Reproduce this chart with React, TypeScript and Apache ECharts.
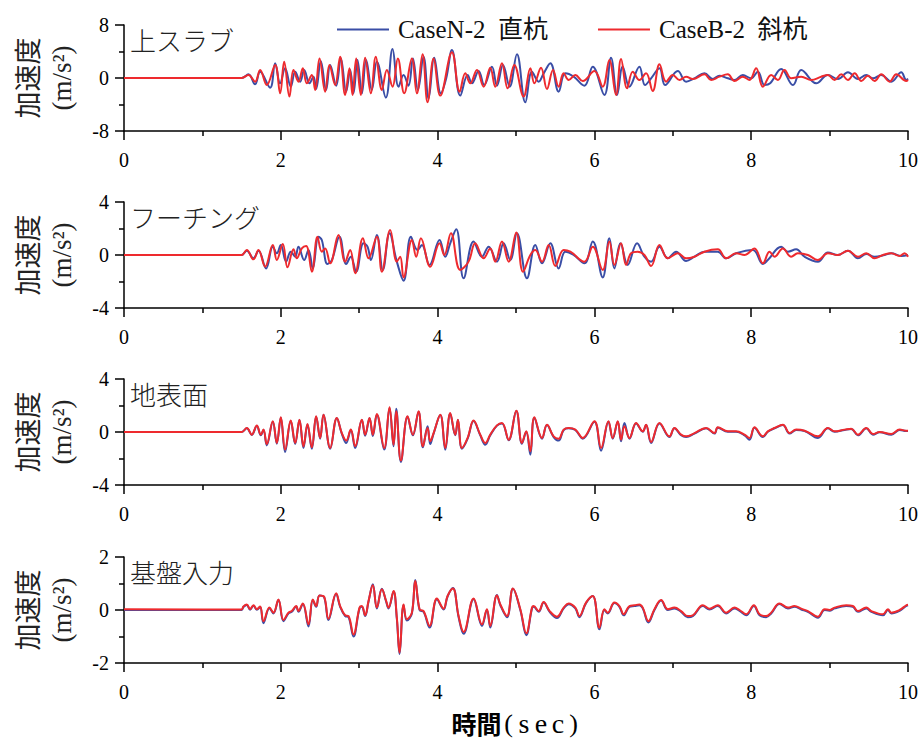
import React, { useEffect, useRef } from "react";
import * as echarts from "echarts";

// ---- labels ----
const SERIES_N = "CaseN-2\u00a0\u00a0直杭";
const SERIES_B = "CaseB-2\u00a0\u00a0斜杭";
const PANEL_TITLES = ["上スラブ", "フーチング", "地表面", "基盤入力"];
const Y_LIMITS = [8, 4, 4, 2];
const X_MIN = 0;
const X_MAX = 10;
const X_STEP = 2;
const Y_NAME_MAIN = "加速度";
const Y_NAME_UNIT = "(m/s²)";
const X_NAME_MAIN = "時間";
const X_NAME_UNIT = ["(", "s", "e", "c", ")"];

// ---- data: [time (s), acceleration (m/s2)] ----
const slabB: number[][] = [
  [0, 0], [1.5, 0], [1.587, 0.45], [1.672, -0.55], [1.736, 1.21], [1.821, -1.06], [1.928, 1.96], [1.991, -2.31],
  [2.043, 2.46], [2.11, -2.81], [2.162, 1.21], [2.226, -0.55], [2.281, 1.46], [2.332, -0.8], [2.396, 0.45],
  [2.438, -1.81], [2.494, 2.96], [2.566, -2.06], [2.621, 1.96], [2.693, -1.06], [2.757, 3.22], [2.821, -2.56],
  [2.876, 1.46], [2.915, -2.56], [2.962, 2.96], [3.021, -2.56], [3.076, 3.07], [3.149, -2.31], [3.212, 3.22],
  [3.289, -1.81], [3.353, 1.21], [3.425, -1.31], [3.493, 2.96], [3.574, -2.31], [3.672, 2.96], [3.736, -2.31],
  [3.808, 3.57], [3.872, -3.67], [3.949, 2.96], [4.034, -2.66], [4.183, 3.87], [4.281, -2.06], [4.353, 0.7],
  [4.417, -0.8], [4.502, 1.21], [4.587, -1.31], [4.672, 1.56], [4.736, -1.31], [4.821, 2.21], [4.893, -1.56],
  [4.978, 1.96], [5.097, -2.81], [5.183, 1.46], [5.234, -0.8], [5.319, 1.56], [5.395, -1.66], [5.472, 1.21],
  [5.544, -1.31], [5.608, 0.7], [5.672, -0.3], [5.757, 0.45], [5.851, -0.45], [6.0, 1.06], [6.106, -1.31],
  [6.191, 2.71], [6.276, -2.56], [6.34, 2.86], [6.417, -1.56], [6.489, 0.95], [6.574, -0.3], [6.659, 0.7],
  [6.744, -1.96], [6.83, 2.06], [6.915, -0.55], [7.0, 0.45], [7.085, -0.3], [7.17, 0.2], [7.255, -0.15],
  [7.404, 0.55], [7.489, -0.3], [7.595, 0.2], [7.702, 0.55], [7.787, -0.45], [7.893, 0.2], [7.978, -0.3],
  [8.063, 1.46], [8.149, -1.31], [8.255, 0.45], [8.34, -0.3], [8.425, 1.21], [8.51, -0.05], [8.638, 0.2],
  [8.766, -0.3], [8.893, 0.2], [8.978, 0.45], [9.063, -0.3], [9.149, 0.55], [9.234, -0.3], [9.319, 0.7],
  [9.404, -0.45], [9.489, 0.35], [9.574, -0.45], [9.659, 0.55], [9.766, -0.55], [9.851, 0.55], [9.978, -0.45],
  [10, -0.3],
];
const slabN: number[][] = [
  [0, 0], [1.5, 0], [1.587, 0.55], [1.672, -0.95], [1.736, 0.95], [1.864, -1.46], [1.928, 2.21], [1.991, -0.8],
  [2.055, 1.46], [2.127, -1.31], [2.183, 0.95], [2.247, -0.55], [2.298, 1.21], [2.366, -0.8], [2.417, 0.2],
  [2.451, -1.66], [2.51, 2.56], [2.578, -1.81], [2.63, 1.96], [2.706, -1.16], [2.766, 2.96], [2.834, -2.06],
  [2.885, 1.21], [2.927, -2.31], [2.978, 2.71], [3.034, -2.31], [3.089, 2.71], [3.161, -1.81], [3.225, 2.46],
  [3.34, -2.96], [3.425, 4.37], [3.502, -1.31], [3.566, 0.45], [3.629, -1.16], [3.685, 2.96], [3.749, -1.81],
  [3.821, 3.22], [3.885, -3.07], [3.957, 3.07], [4.042, -2.31], [4.11, -0.05], [4.183, 4.22], [4.289, -2.66],
  [4.383, 0.45], [4.438, -0.8], [4.523, 1.06], [4.595, -1.06], [4.693, 1.71], [4.757, -1.16], [4.834, 1.96],
  [4.919, -1.31], [5.012, 3.57], [5.119, -3.67], [5.204, 0.95], [5.289, -0.55], [5.353, 0.7], [5.438, 2.21],
  [5.544, -2.06], [5.629, 0.7], [5.735, 0.2], [5.872, -1.16], [5.979, 1.71], [6.127, -2.56], [6.212, 3.07],
  [6.289, -2.56], [6.361, 1.71], [6.446, -1.31], [6.574, 1.71], [6.646, -1.06], [6.723, -0.05], [6.83, 1.46],
  [6.902, -1.06], [7.064, 1.06], [7.17, -0.55], [7.276, -0.05], [7.404, 0.7], [7.51, -0.15], [7.595, 0.35],
  [7.702, -0.05], [7.787, -0.3], [7.893, 0.45], [7.999, -0.05], [8.085, 0.95], [8.17, -1.06], [8.242, -0.8],
  [8.383, 1.36], [8.532, -1.06], [8.638, 1.21], [8.829, -0.8], [8.978, 0.45], [9.106, -0.15], [9.234, 0.85],
  [9.361, -0.15], [9.468, 0.45], [9.553, -0.05], [9.659, 0.45], [9.787, -0.55], [9.914, 0.85], [9.978, -0.3],
  [10, -0.1],
];

const footingB: number[][] = [
  [0, 0], [1.5, 0], [1.566, 0.38], [1.651, -0.33], [1.715, 0.38], [1.8, -0.88], [1.898, 0.75], [1.949, -0.38],
  [2.025, 0.83], [2.085, -0.93], [2.162, 0.43], [2.204, -0.25], [2.268, 0.5], [2.323, 0.68], [2.396, -1.26],
  [2.468, 1.38], [2.523, 0.25], [2.566, 0.5], [2.63, -0.63], [2.736, 1.51], [2.821, -0.5], [2.885, 0.38],
  [2.949, -1.38], [3.047, 1.26], [3.119, -0.25], [3.225, 1.38], [3.289, -1.26], [3.395, 1.89], [3.48, -0.5],
  [3.523, -0.13], [3.566, -1.69], [3.672, 1.13], [3.727, -0.13], [3.787, 1.26], [3.906, -0.88], [4.025, 0.88],
  [4.085, 0], [4.17, 1.64], [4.289, -1.13], [4.395, -0.5], [4.48, 0.88], [4.587, -0.25], [4.672, 0.5],
  [4.736, -0.5], [4.821, 1.01], [4.906, -0.5], [5.004, 1.69], [5.089, -1.26], [5.183, 0], [5.246, 0.38],
  [5.332, -0.5], [5.417, 0.75], [5.502, -0.83], [5.608, 0.38], [5.693, 0.25], [5.872, -0.5], [5.979, 0.63],
  [6.106, -1.13], [6.191, 1.01], [6.255, -0.75], [6.34, 0.88], [6.404, -0.75], [6.468, 0.13], [6.553, 0.25],
  [6.638, 0], [6.723, -0.83], [6.83, 0.75], [6.936, -0.25], [7.064, 0.13], [7.17, -0.25], [7.276, -0.13],
  [7.404, 0.25], [7.574, 0.43], [7.68, -0.25], [7.808, 0.13], [7.915, 0], [8.042, 0.5], [8.149, -0.63],
  [8.234, 0.25], [8.298, -0.13], [8.404, 0.5], [8.51, -0.13], [8.595, 0.13], [8.723, 0], [8.851, -0.38],
  [8.978, 0.13], [9.106, 0], [9.234, 0.33], [9.361, -0.13], [9.468, 0.13], [9.574, -0.25], [9.681, 0],
  [9.787, 0.13], [9.893, -0.08], [9.957, 0.13], [10, -0.13],
];
const footingN: number[][] = [
  [0, 0], [1.5, 0], [1.566, 0.33], [1.651, -0.25], [1.715, 0.33], [1.813, -1.01], [1.898, 0.63], [1.949, 0.13],
  [2.0, 0.75], [2.068, -0.5], [2.127, 0.25], [2.183, -0.13], [2.226, 0.63], [2.298, -0.38], [2.353, 0.38],
  [2.408, -1.01], [2.481, 1.38], [2.523, 1.13], [2.595, -0.68], [2.651, -0.38], [2.749, 1.38], [2.834, -0.68],
  [2.893, -0.13], [2.961, -1.26], [3.055, 0.88], [3.106, 0.63], [3.149, -0.38], [3.225, 1.51], [3.302, -1.13],
  [3.387, 1.64], [3.48, -0.5], [3.566, -1.94], [3.659, 1.38], [3.744, 0.38], [3.799, 0.75], [3.897, -0.75],
  [4.025, 1.13], [4.098, -0.13], [4.161, 0.88], [4.238, 1.94], [4.332, -1.76], [4.459, 1.01], [4.565, -0.13],
  [4.651, 0.63], [4.757, -0.5], [4.842, 0.88], [4.927, -0.38], [5.012, 1.64], [5.14, -1.76], [5.246, 0.75],
  [5.332, -0.63], [5.438, 0.88], [5.544, -1.01], [5.629, 0.25], [5.735, 0], [5.872, -0.63], [5.979, 1.01],
  [6.106, -1.69], [6.191, 1.26], [6.255, -1.01], [6.332, 0.88], [6.425, -0.75], [6.544, 0.88], [6.638, -0.13],
  [6.723, -0.5], [6.83, 0.63], [6.936, -0.25], [7.042, 0.25], [7.17, -0.45], [7.276, -0.13], [7.404, 0.25],
  [7.574, 0.25], [7.68, -0.25], [7.808, 0.13], [8.021, 0.38], [8.149, -0.68], [8.212, -0.38], [8.383, 0.63],
  [8.468, 0.25], [8.574, 0.43], [8.68, -0.13], [8.851, -0.5], [8.978, 0.18], [9.106, 0], [9.234, 0.33],
  [9.361, -0.25], [9.468, 0.08], [9.574, -0.13], [9.702, 0], [9.787, 0.13], [9.914, -0.08], [10, 0],
];

const groundB: number[][] = [
  [0, 0], [1.5, 0], [1.566, 0.3], [1.63, -0.2], [1.694, 0.5], [1.745, -0.2], [1.779, 0.18], [1.821, -0.91],
  [1.898, 0.81], [1.949, -0.83], [2.0, 1.11], [2.055, -1.33], [2.127, 0.86], [2.183, -0.83], [2.238, 0.93],
  [2.289, -1.08], [2.34, 0.6], [2.396, -1.16], [2.451, 1.18], [2.502, -0.45], [2.545, 1.31], [2.63, -1.21],
  [2.715, 1.06], [2.778, -0.08], [2.834, -0.65], [2.893, 0.18], [2.949, -1.08], [3.034, 0.93], [3.076, -0.2],
  [3.132, 1.06], [3.174, -0.2], [3.225, 1.36], [3.319, -1.21], [3.387, 1.86], [3.438, -0.96], [3.472, 1.56],
  [3.532, -2.16], [3.617, 1.18], [3.685, -0.2], [3.757, 1.56], [3.812, -1.08], [3.872, 0.3], [3.906, -0.7],
  [3.949, -0.08], [4.034, 1.31], [4.098, -1.21], [4.161, 1.43], [4.225, -0.2], [4.259, 0.93], [4.31, -1.21],
  [4.383, -0.45], [4.459, 0.86], [4.544, -0.2], [4.608, -0.83], [4.672, -0.2], [4.757, 0.5], [4.821, 0.68],
  [4.906, -0.58], [5.004, 1.61], [5.076, -0.83], [5.131, 0.05], [5.183, -1.46], [5.234, 1.11], [5.332, -0.45],
  [5.395, 0.55], [5.48, -0.33], [5.544, -0.5], [5.608, 0.18], [5.672, 0.3], [5.757, 0.18], [5.851, -0.45],
  [6.0, 0.81], [6.085, -1.21], [6.179, 0.81], [6.234, -0.45], [6.298, 0.81], [6.34, -0.58], [6.383, 0.43],
  [6.447, -0.45], [6.532, 0.68], [6.617, 0.05], [6.659, 0.55], [6.723, -0.75], [6.83, 0.68], [6.957, -0.33],
  [7.021, 0.3], [7.106, -0.2], [7.17, -0.33], [7.276, -0.08], [7.425, 0.3], [7.532, -0.08], [7.574, 0.35],
  [7.702, 0.05], [7.808, 0.05], [7.915, -0.2], [7.978, -0.45], [8.042, 0.35], [8.149, -0.33], [8.212, 0.05],
  [8.298, 0.3], [8.404, 0.55], [8.489, -0.08], [8.574, 0.18], [8.681, 0.1], [8.851, -0.33], [8.978, 0.3],
  [9.063, 0.05], [9.191, 0.18], [9.276, 0.25], [9.361, -0.2], [9.468, 0.3], [9.553, -0.15], [9.638, 0],
  [9.787, -0.15], [9.893, 0.18], [9.978, 0.1], [10, 0.1],
];
const groundN: number[][] = [
  [0, 0], [1.5, 0], [1.566, 0.28], [1.63, -0.22], [1.694, 0.45], [1.745, -0.25], [1.779, 0.15], [1.821, -1.01],
  [1.898, 0.78], [1.949, -0.88], [2.0, 1.08], [2.055, -1.51], [2.127, 0.83], [2.183, -0.9], [2.238, 0.9],
  [2.289, -1.21], [2.34, 0.55], [2.396, -1.26], [2.451, 1.15], [2.502, -0.5], [2.545, 1.31], [2.63, -1.26],
  [2.715, 1.03], [2.778, -0.12], [2.834, -0.83], [2.893, 0.15], [2.949, -1.21], [3.034, 0.9], [3.076, -0.28],
  [3.132, 1.03], [3.174, -0.3], [3.225, 1.3], [3.319, -1.33], [3.387, 1.8], [3.438, -1.08], [3.472, 1.76],
  [3.532, -2.26], [3.617, 1.15], [3.685, -0.25], [3.757, 1.52], [3.812, -1.16], [3.872, 0.43], [3.906, -0.91],
  [3.949, -0.12], [4.034, 1.28], [4.098, -1.33], [4.161, 1.4], [4.225, -0.25], [4.259, 0.9], [4.31, -1.26],
  [4.383, -0.5], [4.459, 0.83], [4.544, -0.25], [4.608, -0.96], [4.672, -0.25], [4.757, 0.48], [4.821, 0.65],
  [4.906, -0.62], [5.004, 1.58], [5.076, -0.88], [5.131, 0.02], [5.183, -1.71], [5.234, 1.08], [5.332, -0.5],
  [5.395, 0.52], [5.48, -0.38], [5.544, -0.65], [5.608, 0.15], [5.672, 0.28], [5.757, 0.15], [5.851, -0.5],
  [6.0, 0.78], [6.085, -1.41], [6.179, 0.78], [6.234, -0.5], [6.298, 0.78], [6.34, -0.7], [6.383, 0.68],
  [6.447, -0.5], [6.532, 0.65], [6.617, 0.02], [6.659, 0.52], [6.723, -0.83], [6.83, 0.65], [6.957, -0.38],
  [7.021, 0.28], [7.106, -0.25], [7.17, -0.38], [7.276, -0.12], [7.425, 0.28], [7.532, -0.12], [7.574, 0.32],
  [7.702, 0.02], [7.808, 0.02], [7.915, -0.25], [7.978, -0.58], [8.042, 0.32], [8.149, -0.38], [8.212, 0.02],
  [8.298, 0.28], [8.404, 0.52], [8.489, -0.12], [8.574, 0.15], [8.681, 0.08], [8.851, -0.45], [8.978, 0.28],
  [9.063, 0.02], [9.191, 0.15], [9.276, 0.22], [9.361, -0.25], [9.468, 0.28], [9.553, -0.2], [9.638, -0.02],
  [9.787, -0.2], [9.893, 0.15], [9.978, 0.08], [10, 0.08],
];

const baseB: number[][] = [
  [0, 0.03], [1.5, 0.02], [1.523, 0.13], [1.566, 0.21], [1.608, 0.03], [1.651, 0.18], [1.694, 0.03],
  [1.736, 0.13], [1.779, -0.42], [1.855, 0.09], [1.906, -0.1], [1.97, 0.4], [2.034, -0.38], [2.098, -0.1],
  [2.14, -0.04], [2.196, 0.15], [2.225, -0.04], [2.281, 0.25], [2.353, -0.54], [2.408, 0.4], [2.451, 0.15],
  [2.494, 0.55], [2.553, 0.5], [2.608, -0.33], [2.706, 0.63], [2.757, 0.15], [2.821, -0.2], [2.864, -0.23],
  [2.927, -0.92], [3.004, 0.09], [3.034, 0.15], [3.076, -0.2], [3.119, 0.34], [3.174, 0.93], [3.225, 0.09],
  [3.289, 0.78], [3.344, 0.34], [3.374, 0.09], [3.438, 0.72], [3.48, -0.29], [3.515, -1.61], [3.566, 0.21],
  [3.608, -0.35], [3.672, -0.1], [3.715, 1.09], [3.77, 0.03], [3.821, -0.04], [3.898, -0.6], [3.991, 0.43],
  [4.076, 0.05], [4.127, 0.53], [4.195, 0.81], [4.268, -0.23], [4.332, -0.83], [4.459, 0.43], [4.566, -0.54],
  [4.629, 0.03], [4.672, -0.6], [4.757, 0.55], [4.8, 0.21], [4.885, -0.23], [4.961, 0.81], [5.055, 0.03],
  [5.131, -0.88], [5.204, 0.09], [5.225, 0.15], [5.289, -0.04], [5.353, 0.3], [5.429, -0.04], [5.523, -0.25],
  [5.608, 0.09], [5.672, 0.25], [5.757, 0.09], [5.808, -0.23], [5.893, 0.28], [5.979, 0.53], [6.064, -0.67],
  [6.127, 0.03], [6.17, -0.1], [6.255, 0.28], [6.319, 0.15], [6.374, -0.16], [6.447, 0.15], [6.511, 0.18],
  [6.574, 0.21], [6.617, 0.09], [6.689, -0.42], [6.766, 0.03], [6.851, 0.38], [6.936, 0.03], [7.021, 0.09],
  [7.106, -0.04], [7.191, -0.23], [7.255, -0.2], [7.383, 0.18], [7.468, 0.05], [7.574, 0.18], [7.68, -0.1],
  [7.787, 0.09], [7.851, 0], [7.936, -0.16], [8.034, 0.18], [8.106, -0.16], [8.191, -0.23], [8.255, -0.1],
  [8.361, 0.25], [8.468, 0.09], [8.553, 0.15], [8.638, 0.05], [8.723, -0.04], [8.851, -0.25], [8.936, 0.03],
  [8.999, 0], [9.063, 0.09], [9.212, 0.18], [9.297, 0.15], [9.361, -0.04], [9.468, 0.09], [9.532, -0.04],
  [9.68, -0.16], [9.744, 0.03], [9.787, -0.1], [9.893, 0], [9.978, 0.18], [10, 0.2],
];
const baseN: number[][] = [
  [0, 0.0], [1.5, 0.0], [1.523, 0.11], [1.566, 0.19], [1.608, 0.01], [1.651, 0.16], [1.694, 0.01],
  [1.736, 0.11], [1.779, -0.5], [1.855, 0.07], [1.906, -0.13], [1.97, 0.38], [2.034, -0.42], [2.098, -0.13],
  [2.14, -0.07], [2.196, 0.13], [2.225, -0.07], [2.281, 0.23], [2.353, -0.62], [2.408, 0.38], [2.451, 0.12],
  [2.494, 0.55], [2.553, 0.48], [2.608, -0.38], [2.706, 0.6], [2.757, 0.12], [2.821, -0.23], [2.864, -0.27],
  [2.927, -1.0], [3.004, 0.06], [3.034, 0.12], [3.076, -0.23], [3.119, 0.32], [3.174, 0.97], [3.225, 0.06],
  [3.289, 0.8], [3.344, 0.31], [3.374, 0.06], [3.438, 0.7], [3.48, -0.33], [3.515, -1.66], [3.566, 0.18],
  [3.608, -0.4], [3.672, -0.13], [3.715, 1.13], [3.77, 0.0], [3.821, -0.07], [3.898, -0.66], [3.991, 0.41],
  [4.076, 0.02], [4.127, 0.51], [4.195, 0.83], [4.268, -0.27], [4.332, -0.9], [4.459, 0.41], [4.566, -0.6],
  [4.629, 0.0], [4.672, -0.66], [4.757, 0.57], [4.8, 0.18], [4.885, -0.27], [4.961, 0.8], [5.055, 0.0],
  [5.131, -0.95], [5.204, 0.06], [5.225, 0.12], [5.289, -0.07], [5.353, 0.28], [5.429, -0.07], [5.523, -0.3],
  [5.608, 0.06], [5.672, 0.22], [5.757, 0.06], [5.808, -0.27], [5.893, 0.26], [5.979, 0.53], [6.064, -0.73],
  [6.127, 0.0], [6.17, -0.13], [6.255, 0.26], [6.319, 0.12], [6.374, -0.2], [6.447, 0.12], [6.511, 0.15],
  [6.574, 0.18], [6.617, 0.06], [6.689, -0.47], [6.766, 0.0], [6.851, 0.36], [6.936, 0.0], [7.021, 0.06],
  [7.106, -0.07], [7.191, -0.27], [7.255, -0.23], [7.383, 0.15], [7.468, 0.02], [7.574, 0.15], [7.68, -0.13],
  [7.787, 0.06], [7.851, -0.03], [7.936, -0.2], [8.034, 0.15], [8.106, -0.2], [8.191, -0.27], [8.255, -0.13],
  [8.361, 0.23], [8.468, 0.06], [8.553, 0.12], [8.638, 0.02], [8.723, -0.07], [8.851, -0.29], [8.936, 0.0],
  [8.999, -0.03], [9.063, 0.06], [9.212, 0.15], [9.297, 0.12], [9.361, -0.07], [9.468, 0.06], [9.532, -0.07],
  [9.68, -0.2], [9.744, 0.0], [9.787, -0.13], [9.893, -0.03], [9.978, 0.15], [10, 0.18],
];

const PANELS_N = [slabN, footingN, groundN, baseN];
const PANELS_B = [slabB, footingB, groundB, baseB];

const BLUE = "#3a4ea6";
const RED = "#ee2a2e";
const SERIF = "'Liberation Serif', 'Noto Sans CJK JP', serif";
const CJK = "'Noto Sans CJK JP', sans-serif";

const GRID_LEFT = 124;
const GRID_WIDTH = 784;
const GRID_TOPS = [25, 202, 379, 557];
const GRID_HEIGHT = 106;

export default function App() {
  const ref = useRef<HTMLDivElement>(null);

  useEffect(() => {
    if (!ref.current) return;
    const chart = echarts.init(ref.current, undefined, { renderer: "svg" });

    const grids = GRID_TOPS.map((top) => ({
      left: GRID_LEFT,
      top,
      width: GRID_WIDTH,
      height: GRID_HEIGHT,
      containLabel: false,
      outerBoundsMode: "none",
    }));

    const axisLineStyle = { color: "#000", width: 1.5 };

    const unitName = X_NAME_UNIT.map((ch) => (ch === "(" || ch === ")" ? `{p|${ch}}` : `{l|${ch}}`)).join("");

    const xAxes = GRID_TOPS.map((_, i) => ({
      type: "value",
      gridIndex: i,
      min: X_MIN,
      max: X_MAX,
      interval: X_STEP,
      axisLine: { show: true, onZero: false, lineStyle: axisLineStyle },
      axisTick: { show: true, inside: false, length: 9, lineStyle: axisLineStyle },
      minorTick: { show: true, splitNumber: 2, length: 5, lineStyle: axisLineStyle },
      splitLine: { show: false },
      axisLabel: { color: "#000", fontSize: 20, fontFamily: SERIF, margin: 19 },
      ...(i === 3
        ? {
            name: `{a|${X_NAME_MAIN}}${unitName}`,
            nameLocation: "middle",
            nameGap: 46,
            nameTextStyle: {
              color: "#000",
              rich: {
                a: { fontSize: 25, fontFamily: CJK, fontWeight: "bold", color: "#000" },
                p: { fontSize: 26, fontFamily: SERIF, color: "#000", width: 14, align: "center" },
                l: { fontSize: 28, fontFamily: SERIF, color: "#000", width: 17, align: "center" },
              },
            },
          }
        : {}),
    }));

    const yAxes = Y_LIMITS.map((lim, i) => ({
      type: "value",
      gridIndex: i,
      min: -lim,
      max: lim,
      interval: lim,
      axisLine: { show: true, onZero: false, lineStyle: axisLineStyle },
      axisTick: { show: true, inside: false, length: 9, lineStyle: axisLineStyle },
      minorTick: { show: true, splitNumber: 2, length: 5, lineStyle: axisLineStyle },
      splitLine: { show: false },
      axisLabel: { color: "#000", fontSize: 20, fontFamily: SERIF, margin: 15 },
      name: `{c|${Y_NAME_MAIN}}\n{u|${Y_NAME_UNIT}}`,
      nameLocation: "middle",
      nameRotate: 90,
      nameGap: 45,
      nameTextStyle: {
        color: "#222",
        fontSize: 26,
        fontFamily: SERIF,
        lineHeight: 35,
        rich: {
          c: { fontSize: 27, fontFamily: CJK, lineHeight: 35, color: "#222" },
          u: { fontSize: 27, fontFamily: SERIF, lineHeight: 35, color: "#222" },
        },
      },
    }));

    const series: any[] = [];
    PANELS_N.forEach((data, i) => {
      series.push({
        name: SERIES_N,
        type: "line",
        xAxisIndex: i,
        yAxisIndex: i,
        data,
        symbol: "none",
        showSymbol: false,
        smooth: 0.4,
        lineStyle: { color: BLUE, width: 2 },
        itemStyle: { color: BLUE },
        z: 2,
      });
    });
    PANELS_B.forEach((data, i) => {
      series.push({
        name: SERIES_B,
        type: "line",
        xAxisIndex: i,
        yAxisIndex: i,
        data,
        symbol: "none",
        showSymbol: false,
        smooth: 0.4,
        lineStyle: { color: RED, width: 2 },
        itemStyle: { color: RED },
        z: 3,
      });
    });

    const titles = PANEL_TITLES.map((t, i) => ({
      type: "text",
      left: 130,
      top: GRID_TOPS[i] + 1,
      style: { text: t, fontSize: 26, fontFamily: CJK, fontWeight: 300, fill: "#222" },
      z: 10,
    }));

    chart.setOption({
      animation: false,
      backgroundColor: "#fff",
      grid: grids,
      xAxis: xAxes,
      yAxis: yAxes,
      legend: {
        data: [SERIES_N, SERIES_B],
        left: 332,
        top: 12,
        icon: "rect",
        itemWidth: 52,
        itemHeight: 2,
        itemGap: 50,
        textStyle: { fontSize: 25, fontFamily: SERIF, color: "#111", padding: [0, 0, 0, 4] },
      },
      graphic: titles,
      series,
    });

    return () => chart.dispose();
  }, []);

  return (
    <div
      ref={ref}
      style={{ position: "fixed", left: 0, top: 0, width: 920, height: 744, background: "#fff" }}
    />
  );
}
